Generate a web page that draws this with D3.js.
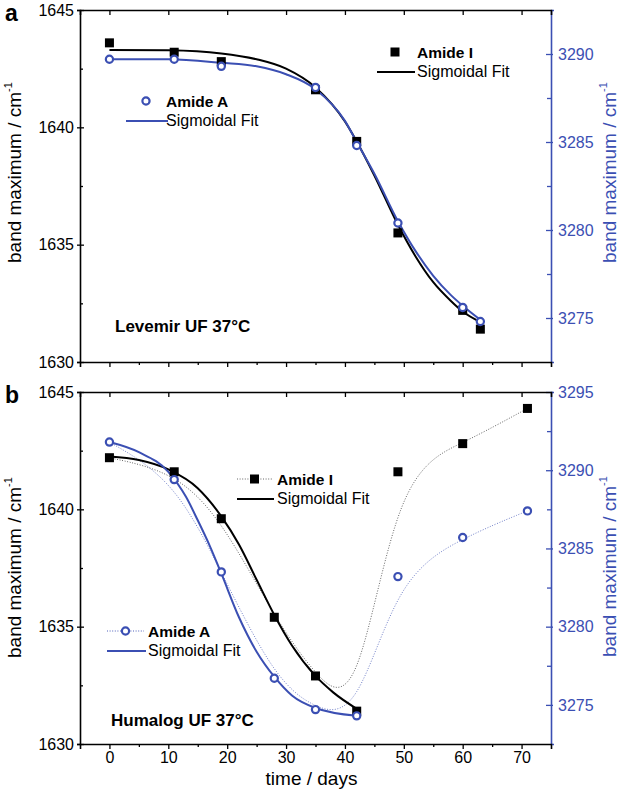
<!DOCTYPE html>
<html><head><meta charset="utf-8">
<script src="https://cdn.jsdelivr.net/npm/d3@7"></script>
<style>
html,body{margin:0;padding:0;background:#fff;}
svg{display:block;font-family:"Liberation Sans",Arial,sans-serif;}
</style></head><body>
<svg id="c" width="622" height="795"></svg>
<script>
// ---------- data ----------
const xTicks = [0,10,20,30,40,50,60,70];
const xMinor = [5,15,25,35,45,55,65];
const leftTicks = [1630,1635,1640,1645];
const leftMinor = [1632.5,1637.5,1642.5];
const rightTicksA = [3275,3280,3285,3290];
const rightMinorA = [3277.5,3282.5,3287.5];
const rightTicksB = [3275,3280,3285,3290,3295];
const rightMinorB = [3277.5,3282.5,3287.5,3292.5];

// panel a: Levemir
const daysA = [0,11,19,35,42,49,60,63];
const amideI_A = [1643.6,1643.2,1642.8,1641.6,1639.4,1635.5,1632.2,1631.4];
const amideA_A = [3289.7,3289.7,3289.3,3288.1,3284.8,3280.4,3275.6,3274.8];
const fitDaysA = [0,10,19,25,30,35,40,42,45,49,52,55,58,60,63];
const fitI_A = [1643.3,1643.28,1643.15,1642.9,1642.5,1641.7,1640.25,1639.4,1637.95,1635.85,1634.5,1633.4,1632.6,1632.15,1631.7];
const fitA_A = [3289.7,3289.7,3289.5,3289.3,3288.85,3288.0,3286.2,3285.0,3283.2,3280.5,3278.8,3277.4,3276.3,3275.7,3274.9];

// panel b: Humalog
const daysB = [0,11,19,28,35,42,49,60,71];
const amideI_B = [1642.2,1641.6,1639.6,1635.4,1632.9,1631.4,1641.6,1642.8,1644.3];
const amideA_B = [3291.8,3289.4,3283.5,3276.7,3274.7,3274.3,3283.2,3285.7,3287.4];
const fitDaysI_B = [0,5,10,15,19,22,25,28,31,35,38,42];
const fitI_B = [1642.25,1642.1,1641.7,1640.9,1639.7,1638.5,1637.0,1635.5,1634.2,1632.9,1632.2,1631.5];
const fitDaysA_B = [0,5,10,13,15,17,19,22,25,28,31,35,42];
const fitA_B = [3291.8,3291.15,3289.9,3288.3,3286.8,3285.2,3283.4,3280.6,3278.4,3276.8,3275.6,3274.8,3274.3];

// ---------- drawing ----------
const BLUE = "#3b4fb3";
const svg = d3.select("#c");
const x = d3.scaleLinear().domain([-5,75]).range([80,551]);

function panel(opt){
  const yL = d3.scaleLinear().domain([1630,1645]).range([opt.bottom,opt.top]);
  const yR = d3.scaleLinear().domain(opt.rDomain).range([opt.bottom,opt.top]);
  const g = svg.append("g");

  // left axis
  const la = g.append("g").attr("transform",`translate(${x.range()[0]},0)`)
    .call(d3.axisLeft(yL).tickValues(leftTicks).tickFormat(d3.format("d")).tickSize(3).tickPadding(3));
  la.selectAll(".tick line").attr("x1",4).attr("x2",-3);
  const lm = g.append("g").attr("transform",`translate(${x.range()[0]},0)`)
    .call(d3.axisRight(yL).tickValues(leftMinor).tickFormat("").tickSize(3));
  lm.select(".domain").remove();

  // right axis
  const ra = g.append("g").attr("transform",`translate(${x.range()[1]},0)`)
    .call(d3.axisRight(yR).tickValues(opt.rTicks).tickFormat(d3.format("d")).tickSize(3).tickPadding(4));
  ra.selectAll(".tick line").attr("x1",-5).attr("x2",2);
  const rm = g.append("g").attr("transform",`translate(${x.range()[1]},0)`)
    .call(d3.axisLeft(yR).tickValues(opt.rMinor).tickFormat("").tickSize(4));
  rm.select(".domain").remove();
  [ra,rm].forEach(s=>{s.selectAll("line,path").attr("stroke",BLUE); s.selectAll("text").attr("fill",BLUE);});

  // bottom axis
  const ba = g.append("g").attr("transform",`translate(0,${opt.bottom})`)
    .call(d3.axisBottom(x).tickValues(xTicks).tickFormat(opt.xLabels ? d3.format("d") : "").tickSize(5).tickPadding(3));
  const bm = g.append("g").attr("transform",`translate(0,${opt.bottom})`)
    .call(d3.axisBottom(x).tickValues(xMinor).tickFormat("").tickSize(3));
  bm.select(".domain").remove();
  // top axis
  const ta = g.append("g").attr("transform",`translate(0,${opt.top})`)
    .call(d3.axisBottom(x).tickValues(xTicks).tickFormat("").tickSize(5));

  [la,lm,ba,bm,ta].forEach(s=>s.selectAll("line,path").attr("stroke","#000"));
  g.selectAll(".domain").attr("stroke-width",1.6);
  g.selectAll(".tick line").attr("stroke-width",1.3);
  g.selectAll(".tick text").attr("font-size",16).attr("font-family",'"Liberation Sans",Arial,sans-serif');
  ra.select(".domain").attr("stroke",BLUE);

  // dotted B-spline connections
  if(opt.dotted){
    g.append("path").datum(opt.daysD)
      .attr("d",d3.line().x(d=>x(d)).y((d,i)=>yL(opt.amI[i])).curve(d3.curveBasis))
      .attr("fill","none").attr("stroke","#555").attr("stroke-width",0.9).attr("stroke-dasharray","1,1.6");
    g.append("path").datum(opt.daysD)
      .attr("d",d3.line().x(d=>x(d)).y((d,i)=>yR(opt.amA[i])).curve(d3.curveBasis))
      .attr("fill","none").attr("stroke",BLUE).attr("stroke-width",0.9).attr("stroke-dasharray","1,1.6").attr("stroke-opacity",0.8);
  }
  // fits
  g.append("path").datum(opt.fitDI)
    .attr("d",d3.line().x(d=>x(d)).y((d,i)=>yL(opt.fitI[i])).curve(d3.curveMonotoneX))
    .attr("fill","none").attr("stroke","#000").attr("stroke-width",2);
  g.append("path").datum(opt.fitDA)
    .attr("d",d3.line().x(d=>x(d)).y((d,i)=>yR(opt.fitA[i])).curve(d3.curveMonotoneX))
    .attr("fill","none").attr("stroke",BLUE).attr("stroke-width",2);

  // markers
  const sq = 9;
  g.selectAll("rect.m").data(opt.daysD).join("rect").attr("class","m")
    .attr("x",d=>x(d)-sq/2).attr("y",(d,i)=>yL(opt.amI[i])-sq/2)
    .attr("width",sq).attr("height",sq).attr("fill","#000");
  g.selectAll("circle.m").data(opt.daysD).join("circle").attr("class","m")
    .attr("cx",d=>x(d)).attr("cy",(d,i)=>yR(opt.amA[i])).attr("r",3.6)
    .attr("fill","#fff").attr("stroke",BLUE).attr("stroke-width",2.2);

  // legends
  const L = opt.legI, M = opt.legA;
  if(opt.dotted){
    g.append("line").attr("x1",L.x0).attr("x2",L.x1).attr("y1",L.y).attr("y2",L.y)
      .attr("stroke","#555").attr("stroke-width",0.9).attr("stroke-dasharray","1,1.6");
    g.append("line").attr("x1",M.x0).attr("x2",M.x1).attr("y1",M.y).attr("y2",M.y)
      .attr("stroke",BLUE).attr("stroke-width",0.9).attr("stroke-dasharray","1,1.6");
  }
  g.append("rect").attr("x",(L.x0+L.x1)/2-4.5).attr("y",L.y-4.5).attr("width",9).attr("height",9).attr("fill","#000");
  g.append("text").attr("x",L.tx).attr("y",L.y+5.5).attr("font-size",15.5).attr("font-weight","bold").text("Amide I");
  g.append("line").attr("x1",L.x0).attr("x2",L.x1+2).attr("y1",L.y+20).attr("y2",L.y+20).attr("stroke","#000").attr("stroke-width",2);
  g.append("text").attr("x",L.tx).attr("y",L.y+25).attr("font-size",16).text("Sigmoidal Fit");

  g.append("circle").attr("cx",(M.x0+M.x1)/2).attr("cy",M.y).attr("r",3.6)
    .attr("fill","#fff").attr("stroke",BLUE).attr("stroke-width",2.2);
  g.append("text").attr("x",M.tx).attr("y",M.y+5.5).attr("font-size",15.5).attr("font-weight","bold").text("Amide A");
  g.append("line").attr("x1",M.x0).attr("x2",M.x1+2).attr("y1",M.y+20).attr("y2",M.y+20).attr("stroke",BLUE).attr("stroke-width",2);
  g.append("text").attr("x",M.tx).attr("y",M.y+25).attr("font-size",16).text("Sigmoidal Fit");

  // sample label
  g.append("text").attr("x",opt.sx).attr("y",opt.sy).attr("font-size",17).attr("font-weight","bold").text(opt.sample);

  // panel letter
  g.append("text").attr("x",5).attr("y",opt.top+11).attr("font-size",23).attr("font-weight","bold").text(opt.letter);

  // axis titles
  function ytitle(xp, yp, color){
    const t = g.append("text").attr("transform",`translate(${xp},${yp}) rotate(-90)`)
      .attr("font-size",19).attr("fill",color);
    t.append("tspan").text("band maximum / cm");
    t.append("tspan").attr("font-size",11).attr("dy",-9).text("-1");
  }
  ytitle(21, opt.ltY, "#000");
  ytitle(616, opt.rtY, BLUE);
}

panel({top:10,bottom:362,rDomain:[3272.5,3292.5],rTicks:rightTicksA,rMinor:rightMinorA,xLabels:false,
  daysD:daysA,amI:amideI_A,amA:amideA_A,fitDI:fitDaysA,fitI:fitI_A,fitDA:fitDaysA,fitA:fitA_A,dotted:false,
  legI:{x0:377,x1:413,y:52,tx:417},legA:{x0:126,x1:166,y:101,tx:166},
  sample:"Levemir UF 37°C",sx:115,sy:332,letter:"a",ltY:263,rtY:263});

panel({top:392,bottom:744,rDomain:[3272.5,3295],rTicks:rightTicksB,rMinor:rightMinorB,xLabels:true,
  daysD:daysB,amI:amideI_B,amA:amideA_B,fitDI:fitDaysI_B,fitI:fitI_B,fitDA:fitDaysA_B,fitA:fitA_B,dotted:true,
  legI:{x0:237,x1:272,y:479,tx:277},legA:{x0:107,x1:144,y:631,tx:148},
  sample:"Humalog UF 37°C",sx:111,sy:726,letter:"b",ltY:658,rtY:657});

svg.append("text").attr("x",311.5).attr("y",785).attr("text-anchor","middle").attr("font-size",19).text("time / days");
</script>
</body></html>
